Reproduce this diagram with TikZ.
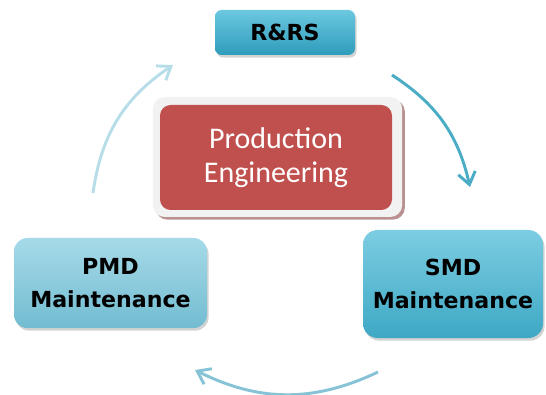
\documentclass[tikz,border=0pt]{standalone}
\usepackage{fontspec}
\setmainfont{DejaVu Sans}
\newfontfamily\calibrifont{Carlito}
\usetikzlibrary{shadows,arrows.meta}

\definecolor{rrsTop}{HTML}{6CC8E0}
\definecolor{rrsBot}{HTML}{2E9CBA}
\definecolor{smdTop}{HTML}{7CCDE2}
\definecolor{smdBot}{HTML}{3EA8C4}
\definecolor{pmdTop}{HTML}{A6DAE8}
\definecolor{pmdBot}{HTML}{72BCD1}
\definecolor{peRed}{HTML}{C0504D}
\definecolor{peShadow}{HTML}{A87676}
\definecolor{arrDark}{HTML}{4BACC6}
\definecolor{arrMid}{HTML}{86C3D7}
\definecolor{arrLight}{HTML}{B7DDE8}

\tikzset{
  taskbox/.style={rounded corners=#1, align=center, inner sep=0pt,
    font=\bfseries\fontsize{16.6}{24.5}\selectfont,
    drop shadow={opacity=0.35, shadow xshift=1.2pt, shadow yshift=-2pt}},
  cyclearrow/.style={line width=2.2pt, -{Straight Barb[length=9pt,width=13pt,line width=2.2pt]}},
}

\begin{document}
\begin{tikzpicture}[x=0.75pt,y=-0.75pt]
\useasboundingbox (0,0) rectangle (546,395);

\node[taskbox=5pt, top color=rrsTop, bottom color=rrsBot,
  minimum width=105pt, minimum height=33.75pt] (rrs) at (285,32.5) {R\&RS};

\node[rounded corners=9pt, fill=gray!10, minimum width=187pt, minimum height=90pt,
  drop shadow={color=peShadow, opacity=0.8, shadow xshift=2pt, shadow yshift=-2pt}]
  (peframe) at (277.5,157) {};
\node[rounded corners=8pt, fill=peRed, text=white, align=center, inner sep=0pt,
  minimum width=174pt, minimum height=78.75pt,
  font=\calibrifont\fontsize{22.5}{25.5}\selectfont] (pe) at (276,157.5)
  {Production\\Engineering};

\node[taskbox=10pt, top color=pmdTop, bottom color=pmdBot,
  minimum width=144.75pt, minimum height=67.5pt] (pmd) at (110.5,283)
  {PMD\\Maintenance};

\node[taskbox=11pt, top color=smdTop, bottom color=smdBot,
  minimum width=135pt, minimum height=81pt] (smd) at (453,284)
  {SMD\\Maintenance};

\coordinate (rrsout) at (392,75);
\coordinate (smdin) at (470,187);
\coordinate (smdout) at (378,372);
\coordinate (pmdin) at (195,370);
\coordinate (pmdout) at (93,193);
\coordinate (rrsin) at (173,65);

\draw[cyclearrow, arrDark] (rrsout) to[bend left=22] (smdin);
\draw[cyclearrow, arrMid] (smdout) to[bend left=26] (pmdin);
\draw[cyclearrow, arrLight] (pmdout) to[bend left=24] (rrsin);
\end{tikzpicture}
\end{document}
